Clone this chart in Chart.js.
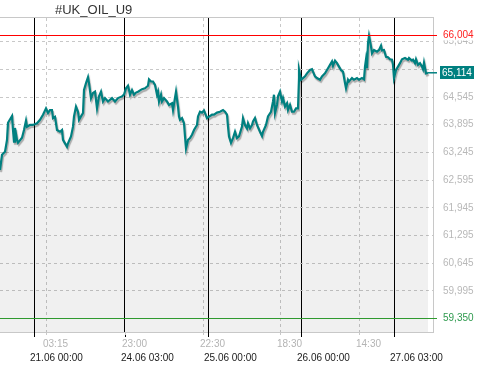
<!DOCTYPE html>
<html>
<head>
  <meta charset="UTF-8">
  <title>#UK_OIL_U9</title>
  <script src="https://cdn.jsdelivr.net/npm/chart.js"></script>
  <style>
    body { margin: 0; background: #fff; }
    canvas { display: block; }
  </style>
</head>
<body>
  <canvas id="chart" width="487" height="368"></canvas>

  <script>
    // Bar index (one bar per px of the original chart) and close price
    const bars = [0, 2, 5, 7, 8, 12, 13, 14, 15, 17, 18, 22, 24, 26, 27, 30, 33, 37, 40, 43, 46, 48, 50, 52, 53, 55, 57, 60, 62, 63,
      67, 68, 71, 73, 74, 76, 78, 79, 81, 83, 84, 86, 88, 89, 91, 93, 95, 97, 99, 101, 103, 105, 108, 112, 115, 118, 122, 124, 126, 128,
      129, 130, 132, 134, 136, 138, 142, 145, 148, 149, 151, 153, 155, 157, 158, 159, 161, 162, 164, 167, 169, 172, 173, 176, 178, 179, 180, 182, 184, 185,
      186, 188, 190, 192, 194, 197, 198, 200, 202, 204, 207, 208, 212, 214, 217, 220, 223, 225, 227, 228, 229, 231, 233, 235, 237, 239, 242, 243, 245, 247,
      248, 250, 252, 253, 255, 257, 260, 262, 263, 266, 268, 271, 273, 274, 275, 277, 278, 280, 282, 283, 285, 287, 288, 290, 292, 294, 296, 298, 299, 299,
      301, 303, 305, 307, 310, 312, 313, 315, 317, 320, 322, 325, 328, 330, 332, 333, 335, 337, 339, 341, 343, 345, 346, 348, 349, 352, 354, 357, 359, 362,
      364, 365, 366, 367, 368, 369, 371, 372, 374, 377, 379, 381, 382, 384, 386, 388, 390, 392, 393, 394, 396, 398, 400, 402, 405, 408, 409, 412, 413, 415,
      416, 418, 420, 422, 423, 424, 426, 428];
    const prices = [62.83, 63.19, 63.26, 63.54, 63.94, 64.10, 63.77, 63.50, 63.82, 63.54, 63.47, 63.59, 63.77, 63.99, 63.85, 63.89, 63.89, 63.93, 64.01, 64.13, 64.28, 64.17, 64.24, 64.24, 64.05, 64.08, 63.77, 63.73, 63.77, 63.54,
      63.38, 63.46, 63.62, 63.85, 64.09, 64.32, 64.20, 64.01, 64.09, 64.17, 64.71, 64.87, 65.01, 64.87, 64.52, 64.64, 64.67, 64.28, 64.56, 64.67, 64.44, 64.52, 64.44, 64.52, 64.44, 64.52, 64.56, 64.60, 64.75, 64.81,
      64.71, 64.60, 64.71, 64.60, 64.65, 64.67, 64.73, 64.75, 64.81, 64.96, 64.91, 64.91, 64.83, 64.60, 64.67, 64.44, 64.60, 64.44, 64.52, 64.44, 64.36, 64.40, 64.24, 64.67, 64.32, 64.09, 64.01, 64.05, 63.93, 63.62,
      63.34, 63.54, 63.58, 63.66, 63.77, 63.89, 64.09, 64.20, 64.18, 64.23, 64.05, 64.07, 64.13, 64.13, 64.18, 64.20, 64.24, 64.20, 64.13, 63.85, 63.62, 63.47, 63.58, 63.73, 63.58, 63.62, 63.85, 64.05, 63.89, 63.81,
      63.93, 63.81, 63.89, 63.97, 64.05, 63.89, 63.73, 63.63, 63.73, 63.89, 64.09, 64.20, 64.44, 64.60, 64.17, 64.36, 64.56, 64.67, 64.44, 64.52, 64.32, 64.40, 64.24, 64.36, 64.20, 64.20, 64.28, 64.28, 64.99, 65.18,
      64.95, 64.99, 65.03, 65.10, 65.18, 65.20, 65.14, 65.03, 64.99, 64.95, 65.03, 65.10, 65.22, 65.30, 65.38, 65.28, 65.40, 65.34, 65.26, 65.18, 65.14, 64.87, 64.75, 64.95, 64.91, 64.99, 64.95, 64.99, 64.95, 64.99,
      64.96, 65.26, 65.43, 65.22, 65.81, 65.98, 65.73, 65.57, 65.65, 65.61, 65.65, 65.75, 65.64, 65.65, 65.49, 65.48, 65.43, 65.42, 65.30, 64.99, 65.18, 65.26, 65.34, 65.43, 65.46, 65.42, 65.46, 65.40, 65.42, 65.34,
      65.43, 65.30, 65.34, 65.26, 65.20, 65.35, 65.10, 65.11];

    // Price scale ticks
    const yTicks = [59.995, 60.645, 61.295, 61.945, 62.595, 63.245, 63.895, 64.545, 65.195, 65.845];
    // Time grid (gray) and day separators (black)
    const timeBars = [46, 125, 203, 280, 359];
    const timeLabels = ["03:15", "23:00", "22:30", "18:30", "14:30"];
    const dateBars = [34, 125, 208, 301, 394];
    const dateLabels = ["21.06 00:00", "24.06 03:00", "25.06 00:00", "26.06 00:00", "27.06 03:00"];

    const symbol = "#UK_OIL_U9";
    const highLevel = 66.004;
    const lowLevel = 59.350;
    const lastPrice = 65.114;

    const fam = "'Liberation Sans', Arial, sans-serif";
    const teal = "#008080";
    const fmt = v => v.toFixed(3).replace(".", ",");

    const points = bars.map((b, i) => ({ x: b, y: prices[i] }));

    // soft shadow under the price line
    const shadowPlugin = {
      id: "shadow",
      beforeDatasetDraw(chart, args) {
        if (args.index !== 1) return;
        const ctx = chart.ctx;
        ctx.save();
        ctx.shadowColor = "rgba(0,0,0,0.3)";
        ctx.shadowOffsetX = 1;
        ctx.shadowOffsetY = 2;
        ctx.shadowBlur = 1;
      },
      afterDatasetDraw(chart, args) {
        if (args.index === 1) chart.ctx.restore();
      }
    };

    // frame, level lines, price labels and the symbol title
    const overlay = {
      id: "overlay",
      afterDraw(chart) {
        const ctx = chart.ctx;
        const a = chart.chartArea;
        const y = chart.scales.y;
        const x = chart.scales.x;
        const x2 = chart.scales.x2;
        ctx.save();

        ctx.strokeStyle = "#c8c8c8";
        ctx.lineWidth = 1;
        ctx.strokeRect(a.left - 1, a.top - 0.5, a.right - a.left + 1.5, a.bottom - a.top + 1);

        // separators run a little below the frame
        ctx.strokeStyle = "#000";
        dateBars.forEach(b => {
          const px = Math.round(x2.getPixelForValue(b)) + 0.5;
          ctx.beginPath(); ctx.moveTo(px, a.bottom); ctx.lineTo(px, a.bottom + 5); ctx.stroke();
        });
        ctx.strokeStyle = "#c8c8c8";
        ctx.setLineDash([3, 3]);
        timeBars.forEach(b => {
          const px = Math.round(x.getPixelForValue(b)) + 0.5;
          ctx.beginPath(); ctx.moveTo(px, a.bottom); ctx.lineTo(px, a.bottom + 4); ctx.stroke();
        });
        ctx.setLineDash([]);

        ctx.font = "10px " + fam;
        ctx.textBaseline = "middle";
        ctx.textAlign = "left";

        // high level
        const yh = Math.round(y.getPixelForValue(highLevel)) + 0.5;
        ctx.strokeStyle = "#ff0000";
        ctx.lineWidth = 1;
        ctx.beginPath(); ctx.moveTo(a.left, yh); ctx.lineTo(a.right + 4, yh); ctx.stroke();
        ctx.fillStyle = "#fff";
        ctx.fillRect(a.right + 7, yh - 6, 40, 11);
        ctx.fillStyle = "#ff2020";
        ctx.fillText(fmt(highLevel), a.right + 10, yh);

        // low level
        const yl = Math.round(y.getPixelForValue(lowLevel)) + 0.5;
        ctx.strokeStyle = "#2f9a2f";
        ctx.beginPath(); ctx.moveTo(a.left, yl); ctx.lineTo(a.right + 4, yl); ctx.stroke();
        ctx.fillStyle = "#fff";
        ctx.fillRect(a.right + 7, yl - 6, 40, 11);
        ctx.fillStyle = "#2e9a4e";
        ctx.fillText(fmt(lowLevel), a.right + 10, yl);

        // last price
        const yp = y.getPixelForValue(lastPrice);
        ctx.strokeStyle = teal;
        ctx.lineWidth = 1.5;
        ctx.beginPath();
        ctx.moveTo(x.getPixelForValue(bars[bars.length - 1]), yp);
        ctx.lineTo(a.right + 4, yp);
        ctx.stroke();
        ctx.fillStyle = teal;
        ctx.fillRect(a.right + 7, Math.round(yp) - 7, 34, 13);
        ctx.fillStyle = "#fff";
        ctx.fillText(fmt(lastPrice), a.right + 9, Math.round(yp));

        // symbol
        ctx.font = "13px " + fam;
        ctx.fillStyle = "#333";
        ctx.textBaseline = "alphabetic";
        ctx.fillText(symbol, 55, 13.5);
        ctx.restore();
      }
    };

    new Chart(document.getElementById("chart"), {
      type: "line",
      data: {
        datasets: [{
          data: points,
          borderWidth: 0,
          pointRadius: 0,
          fill: "start",
          backgroundColor: "rgba(0,0,0,0.06)",
          order: 2
        }, {
          data: points,
          borderColor: teal,
          borderWidth: 2.2,
          pointRadius: 0,
          fill: false,
          tension: 0,
          order: 1
        }]
      },
      options: {
        responsive: false,
        animation: false,
        devicePixelRatio: 1,
        layout: { padding: { top: 18, left: 0, right: 0, bottom: 0 } },
        plugins: {
          legend: { display: false },
          tooltip: { enabled: false }
        },
        scales: {
          x: {
            type: "linear", min: 0, max: 433, position: "bottom", weight: 0,
            afterFit: s => { s.height = 18; },
            afterBuildTicks: s => { s.ticks = timeBars.map(v => ({ value: v })); },
            grid: { color: "#c8c8c8", drawTicks: false },
            border: { display: false, dash: [3, 3] },
            ticks: {
              align: "start", labelOffset: -3, padding: 6, maxRotation: 0, autoSkip: false,
              color: "#b4b4b4", font: { family: fam, size: 10 },
              callback: (v, i) => timeLabels[i]
            }
          },
          x2: {
            type: "linear", min: 0, max: 433, position: "bottom", weight: 1,
            afterFit: s => { s.height = 18; },
            afterBuildTicks: s => { s.ticks = dateBars.map(v => ({ value: v })); },
            grid: { color: "#000", drawTicks: false },
            border: { display: false },
            ticks: {
              align: "start", labelOffset: -4, padding: 2, maxRotation: 0, autoSkip: false,
              color: "#1a1a1a", font: { family: fam, size: 10 },
              callback: (v, i) => dateLabels[i]
            }
          },
          y: {
            position: "right", min: 59.03, max: 66.40,
            afterFit: s => { s.width = 54; },
            afterBuildTicks: s => { s.ticks = yTicks.map(v => ({ value: v })); },
            grid: { color: "#c8c8c8", drawTicks: false },
            border: { display: false, dash: [3, 3] },
            ticks: {
              padding: 10, autoSkip: false,
              color: "#b8b8b8", font: { family: fam, size: 10 },
              // the tick right under the last-price box is hidden by it
              callback: v => Math.abs(v - lastPrice) < 0.15 ? "" : fmt(v)
            }
          }
        }
      },
      plugins: [shadowPlugin, overlay]
    });
  </script>
</body>
</html>
